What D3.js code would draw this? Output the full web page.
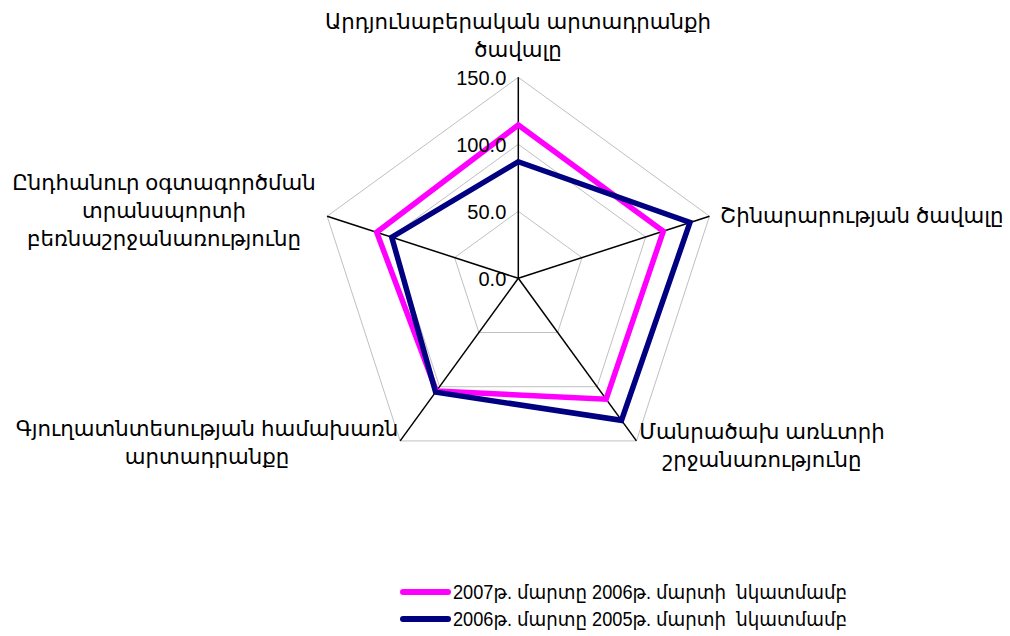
<!DOCTYPE html>
<html>
<head>
<meta charset="utf-8">
<script src="https://cdn.jsdelivr.net/npm/d3@7"></script>
<style>
  body { margin: 0; background: #fff; }
  svg text { font-family: "Liberation Sans", Arial, "DejaVu Sans", sans-serif; fill: #000; }
</style>
</head>
<body>
<div id="chart"></div>
<script>
// categories (clockwise from top)
const categories = [
  ["Արդյունաբերական արտադրանքի", "ծավալը"],
  ["Շինարարության ծավալը"],
  ["Մանրածախ առևտրի", "շրջանառությունը"],
  ["Գյուղատնտեսության համախառն", "արտադրանքը"],
  ["Ընդհանուր օգտագործման", "տրանսպորտի", "բեռնաշրջանառությունը"]
];
const seriesNames = [
  "2007թ. մարտը 2006թ. մարտի  նկատմամբ",
  "2006թ. մարտը 2005թ. մարտի  նկատմամբ"
];
const values2007 = [114.4, 113.8, 111.5, 104.0, 111.1];
const values2006 = [87.0, 134.7, 131.0, 105.0, 99.3];
const ticks = [0, 50, 100, 150];
const colors = ["#ff00ff", "#000080"];

const width = 1010, height = 636;
const cx = 518.3, cy = 278.3, R = 201;

const svg = d3.select("#chart").append("svg")
  .attr("width", width).attr("height", height);

const r = d3.scaleLinear().domain([0, 150]).range([0, R]);
const n = categories.length;
const angle = i => (2 * Math.PI * i) / n;
const pt = (i, v) => [cx + r(v) * Math.sin(angle(i)), cy - r(v) * Math.cos(angle(i))];

// grid rings
ticks.filter(t => t > 0).forEach(t => {
  svg.append("polygon")
    .attr("points", d3.range(n).map(i => pt(i, t).join(",")).join(" "))
    .attr("fill", "none")
    .attr("stroke", "#c0c0c0")
    .attr("stroke-width", 1);
});

// axes
svg.selectAll("line.axis").data(d3.range(n)).enter().append("line")
  .attr("class", "axis")
  .attr("x1", cx).attr("y1", cy)
  .attr("x2", i => pt(i, 150)[0]).attr("y2", i => pt(i, 150)[1])
  .attr("stroke", "#000").attr("stroke-width", 1.5);

// series
const line = d3.lineRadial()
  .angle((d, i) => angle(i))
  .radius(d => r(d))
  .curve(d3.curveLinearClosed);

[values2007, values2006].forEach((vals, k) => {
  svg.append("path")
    .attr("transform", `translate(${cx},${cy})`)
    .attr("d", line(vals))
    .attr("fill", "none")
    .attr("stroke", colors[k])
    .attr("stroke-width", 5.5)
    .attr("stroke-linejoin", "miter");
});

// tick labels
svg.selectAll("text.tick").data(ticks).enter().append("text")
  .attr("class", "tick")
  .attr("x", cx - 12)
  .attr("y", d => cy - r(d) + 8)
  .attr("text-anchor", "end")
  .attr("font-size", 20)
  .text(d => d.toFixed(1));

// category labels
const labelLayout = [
  { x: 518, y: 29, anchor: "middle" },
  { x: 720, y: 223, anchor: "start" },
  { x: 762, y: 439, anchor: "middle" },
  { x: 207, y: 436, anchor: "middle" },
  { x: 164, y: 190, anchor: "middle" }
];
const lh = 28;
categories.forEach((lines, i) => {
  const L = labelLayout[i];
  const t = svg.append("text")
    .attr("x", L.x).attr("y", L.y)
    .attr("text-anchor", L.anchor)
    .attr("font-size", 21.3);
  lines.forEach((s, j) => {
    t.append("tspan").attr("x", L.x).attr("y", L.y + j * lh).text(s);
  });
});

// legend
const legend = svg.append("g");
seriesNames.forEach((s, k) => {
  const y = 592 + k * 27;
  legend.append("line")
    .attr("x1", 403).attr("x2", 448).attr("y1", y).attr("y2", y)
    .attr("stroke", colors[k]).attr("stroke-width", 6)
    .attr("stroke-linecap", "round");
  legend.append("text")
    .attr("x", 453).attr("y", y + 7)
    .attr("font-size", 20)
    .attr("textLength", 394)
    .attr("lengthAdjust", "spacingAndGlyphs")
    .style("white-space", "pre")
    .text(s);
});
</script>
</body>
</html>
